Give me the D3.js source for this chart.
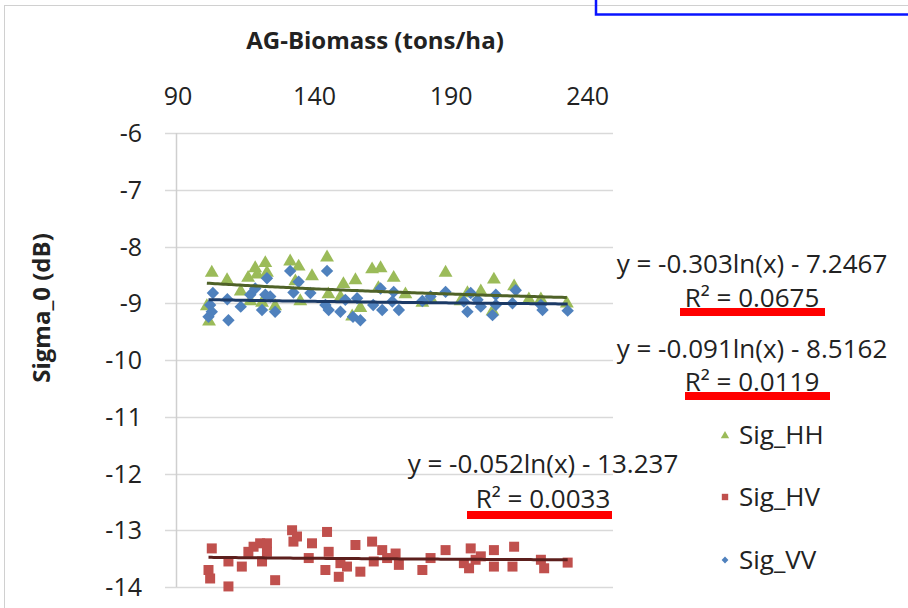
<!DOCTYPE html>
<html>
<head>
<meta charset="utf-8">
<script src="https://cdn.jsdelivr.net/npm/d3@7"></script>
<style>
  body { margin: 0; background: #fff; }
  text { font-family: "Open Sans", sans-serif; fill: #222; }
</style>
</head>
<body>
<div id="chart"></div>
<script>
// series names and colours (Excel 2007 palette)
const seriesNames = ["Sig_HH", "Sig_HV", "Sig_VV"];

// AG biomass (tons/ha) and backscatter (dB)
const hhX = [103.1, 101.3, 102.1, 108.7, 113.7, 116.4, 119.0, 119.7, 122.7, 123.3, 121.5, 126.3,
  131.8, 134.9, 133.7, 139.8, 145.3, 145.8, 151.3, 155.7, 157.5, 154.5, 161.8, 164.9, 164.1,
  169.7, 188.7, 206.4, 213.8, 196.7, 201.6, 180.2, 205.9, 223.6, 174.0, 183.2, 117.2, 135.5,
  150.2, 194.2, 219.2, 233.1];
const hhY = [-8.44, -9.03, -9.30, -8.57, -8.77, -8.53, -8.36, -8.47, -8.27, -8.44, -8.97, -9.03,
  -8.24, -8.33, -8.59, -8.50, -8.17, -8.82, -8.64, -8.57, -9.06, -9.21, -8.38, -8.36, -8.71,
  -8.53, -8.44, -8.56, -8.68, -8.80, -8.77, -8.97, -9.12, -8.91, -8.82, -8.89, -8.94, -8.94,
  -8.87, -8.94, -8.91, -8.98];

const hvX = [103.1, 101.9, 102.5, 109.2, 109.2, 114.1, 116.5, 118.4, 120.8, 123.3, 121.5, 123.3,
  126.3, 132.5, 134.3, 133.0, 139.8, 138.6, 145.3, 145.9, 144.7, 150.2, 149.6, 152.6, 155.7,
  157.5, 161.8, 162.4, 165.5, 167.3, 170.4, 171.6, 180.2, 183.2, 188.7, 195.4, 197.9, 199.7,
  201.6, 197.3, 206.4, 206.4, 213.2, 213.8, 223.6, 224.8, 233.4];
const hvY = [-13.32, -13.70, -13.85, -13.55, -13.99, -13.64, -13.38, -13.29, -13.23, -13.23, -13.55,
  -13.38, -13.88, -13.00, -13.11, -13.20, -13.23, -13.49, -13.03, -13.38, -13.70, -13.58, -13.82,
  -13.64, -13.26, -13.73, -13.20, -13.55, -13.35, -13.49, -13.41, -13.61, -13.70, -13.49, -13.35,
  -13.58, -13.32, -13.52, -13.46, -13.67, -13.35, -13.64, -13.64, -13.29, -13.52, -13.67, -13.57];

const vvX = [103.5, 102.5, 101.9, 103.1, 108.8, 109.2, 113.7, 117.2, 119.0, 121.5, 123.3, 122.7,
  124.5, 126.3, 131.8, 134.9, 133.0, 139.2, 145.3, 144.7, 145.9, 150.2, 152.0, 156.3, 154.8,
  157.5, 162.2, 165.5, 164.9, 169.7, 169.2, 171.6, 180.2, 183.2, 188.7, 195.4, 196.7, 197.9,
  200.4, 201.6, 205.9, 207.1, 207.1, 213.2, 214.4, 223.6, 224.2, 233.4];
const vvY = [-8.82, -9.03, -9.24, -9.15, -8.93, -9.30, -9.06, -8.85, -8.74, -9.12, -8.56, -8.85,
  -8.88, -9.15, -8.43, -8.62, -8.81, -8.82, -8.43, -9.03, -9.12, -9.15, -8.94, -8.91, -9.24,
  -9.30, -9.03, -9.12, -8.74, -8.80, -8.97, -9.12, -8.96, -8.88, -8.80, -8.97, -9.15, -8.82,
  -8.94, -9.06, -9.21, -9.03, -8.85, -9.00, -8.77, -9.03, -9.12, -9.13];

// logarithmic trendlines y = a ln(x) + b, as printed on the chart
const trendA = [-0.303, -0.052, -0.091];
const trendB = [-7.2467, -13.237, -8.5162];
const trendEq = ["y = -0.303ln(x) - 7.2467", "y = -0.052ln(x) - 13.237", "y = -0.091ln(x) - 8.5162"];
const trendR2 = ["R² = 0.0675", "R² = 0.0033", "R² = 0.0119"];

// tick labels
const xTicks = [90, 140, 190, 240];
const yTicks = [-6, -7, -8, -9, -10, -11, -12, -13, -14];

const width = 908, height = 608;
const markColor = ["#9bbb59", "#c0504d", "#4f81bd"];
const lineColor = ["#4f6228", "#5c1f1d", "#1c3a66"];

const svg = d3.select("#chart").append("svg")
  .attr("width", width).attr("height", height);

// chart area border and the blue box at the top right
svg.append("rect").attr("x", 4.5).attr("y", 5.5).attr("width", 1000).attr("height", 1000)
  .attr("fill", "none").attr("stroke", "#d0d0d0");
svg.append("rect").attr("x", 596).attr("y", -10).attr("width", 400).attr("height", 24.5)
  .attr("fill", "none").attr("stroke", "#0a14ff").attr("stroke-width", 2.5);

const x = d3.scaleLinear().domain([90, 250]).range([176, 613]);
const y = d3.scaleLinear().domain([-14, -6]).range([587, 133]);

// horizontal gridlines with small outside ticks
svg.append("g").selectAll("line").data(yTicks).join("line")
  .attr("x1", 165).attr("x2", 613)
  .attr("y1", d => Math.round(y(d)) + 0.5).attr("y2", d => Math.round(y(d)) + 0.5)
  .attr("stroke", "#d9d9d9").attr("stroke-width", 1.5);

// vertical axis line
svg.append("line").attr("x1", 176.5).attr("x2", 176.5).attr("y1", y(-6)).attr("y2", y(-14))
  .attr("stroke", "#cfcfcf").attr("stroke-width", 1.5);

// y tick labels
svg.append("g").selectAll("text").data(yTicks).join("text")
  .attr("x", 142).attr("y", d => y(d) + 9)
  .attr("text-anchor", "end").style("font-size", "25px")
  .text(d => String(d));

// x tick labels (axis sits at the top)
svg.append("g").selectAll("text").data(xTicks).join("text")
  .attr("x", d => x(d) + 2).attr("y", 105)
  .attr("text-anchor", "middle").style("font-size", "25px")
  .text(d => String(d));

// axis titles
svg.append("text").attr("x", 375).attr("y", 49).attr("text-anchor", "middle")
  .style("font-size", "24px").style("font-weight", "bold").text("AG-Biomass (tons/ha)");
svg.append("text").attr("transform", "translate(50,308) rotate(-90)").attr("text-anchor", "middle")
  .style("font-size", "24px").style("font-weight", "bold").text("Sigma_0  (dB)");

// marker shapes
function triangle(r) { return `M0,${-r}L${r * 1.05},${r * 0.8}L${-r * 1.05},${r * 0.8}Z`; }
function square(r) { return `M${-r},${-r}H${r}V${r}H${-r}Z`; }
function diamond(r) { return `M0,${-r}L${r},0L0,${r}L${-r},0Z`; }
const shapes = [triangle, square, diamond];
const markSize = [6.6, 5, 6.2];

const series = [
  { xs: hhX, ys: hhY },
  { xs: hvX, ys: hvY },
  { xs: vvX, ys: vvY }
];

series.forEach((s, i) => {
  const pts = d3.zip(s.xs, s.ys);
  svg.append("g").selectAll("path").data(pts).join("path")
    .attr("transform", d => `translate(${x(d[0])},${y(d[1])})`)
    .attr("d", shapes[i](markSize[i]))
    .attr("fill", markColor[i]);
});

// trendlines over the markers
series.forEach((s, i) => {
  const [lo, hi] = d3.extent(s.xs);
  const xs = d3.range(lo, hi, 1).concat([hi]);
  const line = d3.line().x(d => x(d)).y(d => y(trendA[i] * Math.log(d) + trendB[i]));
  svg.append("path").datum(xs).attr("d", line)
    .attr("fill", "none").attr("stroke", lineColor[i]).attr("stroke-width", 3);
});

// trendline equations
const eqPos = [[752, 273, 307], [543, 473, 508], [752, 358, 391]];
trendEq.forEach((t, i) => {
  svg.append("text").attr("x", eqPos[i][0]).attr("y", eqPos[i][1]).attr("text-anchor", "middle")
    .style("font-size", "26px").text(t);
  svg.append("text").attr("x", eqPos[i][0]).attr("y", eqPos[i][2]).attr("text-anchor", "middle")
    .style("font-size", "26px").text(trendR2[i]);
});

// red underlines under the R² values
const underline = [[680, 308, 145], [467, 511, 145], [685, 392, 145]];
underline.forEach(u => {
  svg.append("rect").attr("x", u[0]).attr("y", u[1]).attr("width", u[2]).attr("height", 8)
    .attr("fill", "#ff0000");
});

// legend
const legendY = [435, 497, 560];
const legendSize = [4, 3.2, 3.4];
seriesNames.forEach((n, i) => {
  svg.append("path").attr("transform", `translate(725,${legendY[i]})`)
    .attr("d", shapes[i](legendSize[i])).attr("fill", markColor[i]);
  svg.append("text").attr("x", 739).attr("y", legendY[i] + 9)
    .style("font-size", "26px").text(n);
});
</script>
</body>
</html>
